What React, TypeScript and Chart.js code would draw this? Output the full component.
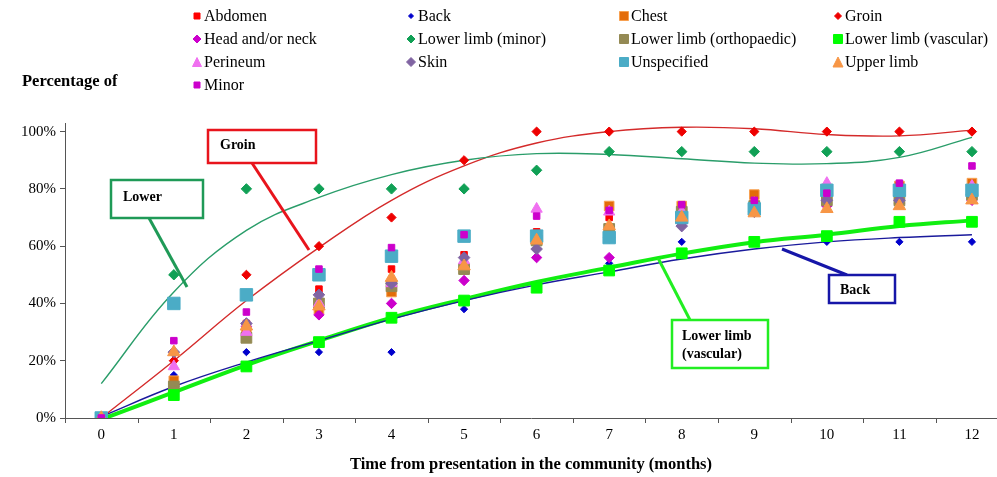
import React, { useEffect, useRef } from 'react';
import { Chart, registerables } from 'chart.js';

Chart.register(...registerables);

const SERIF = '"Liberation Serif", "Times New Roman", Times, serif';

// ---- data (percent) ----
const months = [0, 1, 2, 3, 4, 5, 6, 7, 8, 9, 10, 11, 12];
const yTicks = [0, 20, 40, 60, 80, 100];

const abdomen = [0, 12, 33, 45, 52, 57, 65, 70, 73, 76, 76, 78, 80];
const back = [0, 15, 23, 23, 23, 38, 46, 54, 61.5, 61.5, 61.5, 61.5, 61.5];
const chest = [0, 13, 30, 38, 44, 52, 63, 74, 74, 78, 80, 81, 82];
const groin = [0, 20, 50, 60, 70, 90, 100, 100, 100, 100, 100, 100, 100];
const headNeck = [0, 11, 32, 36, 40, 48, 56, 56, 68, 72, 74, 75, 76];
const lowerMinor = [0, 50, 80, 80, 80, 80, 86.5, 93, 93, 93, 93, 93, 93];
const lowerOrtho = [0, 11, 28, 40, 46, 52, 62, 66, 72, 74, 76, 76, 78];
const lowerVascular = [0, 8, 18, 26.5, 35, 41, 45.5, 51.5, 57.5, 61.5, 63.5, 68.5, 68.5];
const perineum = [0, 18, 30, 40, 47, 55, 73, 72, 72, 75, 82, 80, 81];
const skin = [0, 23, 33, 43, 47, 56, 59, 63, 67, 72, 76, 76, 78];
const unspecified = [0, 40, 43, 50, 56.5, 63.5, 63.5, 63, 70, 73, 79.5, 79.5, 79.5];
const upperLimb = [0, 23, 32, 39, 49, 53, 62, 67, 70, 71.5, 73, 74, 76];
const minor = [0, 27, 37, 52, 59.5, 64, 70.5, 72.5, 74.5, 76, 78.5, 82, 88];

// trend lines
const trendLowerMinor = [12, 44, 65.5, 77, 85, 90, 92.3, 92, 90.5, 89, 88.8, 91, 98];
const trendGroin = [0, 20, 41, 59.5, 76, 88, 96, 100, 101.5, 101, 99, 98.5, 100.5];
const trendBack = [0.5, 11, 19.5, 27, 34.5, 41, 46.5, 51, 55.5, 59, 61.5, 63, 64];
const trendVascular = [-0.5, 9, 18.5, 27, 35, 41.5, 47.5, 52.5, 57.4, 61.4, 64, 67, 69];

type Series = {
  label: string;
  data: number[];
  fill: string;
  stroke: string;
  shape: 'rect' | 'rectRot' | 'triangle';
  radius: number;
  legendSize: number;
};

const series: Series[] = [
  { label: 'Abdomen', data: abdomen, fill: '#ff0000', stroke: '#ff0000', shape: 'rect', radius: 4.6, legendSize: 6 },
  { label: 'Back', data: back, fill: '#0000cc', stroke: '#0000cc', shape: 'rectRot', radius: 3.6, legendSize: 5 },
  { label: 'Chest', data: chest, fill: '#e36c09', stroke: '#f7a050', shape: 'rect', radius: 6.8, legendSize: 9 },
  { label: 'Groin', data: groin, fill: '#ee0000', stroke: '#ee0000', shape: 'rectRot', radius: 4.6, legendSize: 7 },
  { label: 'Head and/or neck', data: headNeck, fill: '#cc00cc', stroke: '#cc00cc', shape: 'rectRot', radius: 5.2, legendSize: 8 },
  { label: 'Lower limb (minor)', data: lowerMinor, fill: '#10a055', stroke: '#10a055', shape: 'rectRot', radius: 5.2, legendSize: 8 },
  { label: 'Lower limb (orthopaedic)', data: lowerOrtho, fill: '#948a54', stroke: '#948a54', shape: 'rect', radius: 7.6, legendSize: 9 },
  { label: 'Lower limb (vascular)', data: lowerVascular, fill: '#00ff00', stroke: '#00ff00', shape: 'rect', radius: 7.6, legendSize: 9 },
  { label: 'Perineum', data: perineum, fill: '#f070f0', stroke: '#f070f0', shape: 'triangle', radius: 6.5, legendSize: 9 },
  { label: 'Skin', data: skin, fill: '#8064a2', stroke: '#8064a2', shape: 'rectRot', radius: 5.8, legendSize: 9 },
  { label: 'Unspecified', data: unspecified, fill: '#4bacc6', stroke: '#4bacc6', shape: 'rect', radius: 8.8, legendSize: 9 },
  { label: 'Upper limb', data: upperLimb, fill: '#f79646', stroke: '#f79646', shape: 'triangle', radius: 7.2, legendSize: 10 },
  { label: 'Minor', data: minor, fill: '#cc00cc', stroke: '#cc00cc', shape: 'rect', radius: 4.6, legendSize: 6 },
];

const trends = [
  { label: 'trend Lower limb (minor)', data: trendLowerMinor, color: '#2a9d6a', width: 1.4 },
  { label: 'trend Groin', data: trendGroin, color: '#d42a2a', width: 1.4 },
  { label: 'trend Back', data: trendBack, color: '#1a1a9c', width: 1.4 },
  { label: 'trend Lower limb (vascular)', data: trendVascular, color: '#11ee11', width: 4 },
];

const callouts = [
  { lines: ['Groin'], color: '#e8141c', box: [208, 130, 108, 33], leader: [252, 163, 309, 250], textX: 220, textY: 145 },
  { lines: ['Lower'], color: '#1f9a57', box: [111, 180, 92, 38], leader: [149, 218, 187, 287], textX: 123, textY: 197 },
  { lines: ['Back'], color: '#1616a8', box: [829, 275, 66, 28], leader: [847, 275, 782, 249], textX: 840, textY: 290 },
  { lines: ['Lower limb', '(vascular)'], color: '#22ee22', box: [672, 320, 96, 48], leader: [690, 320, 658, 258], textX: 682, textY: 336 },
];

function drawMarker(ctx: CanvasRenderingContext2D, shape: string, x: number, y: number, size: number, fill: string, stroke: string) {
  ctx.save();
  ctx.fillStyle = fill;
  ctx.strokeStyle = stroke;
  ctx.lineWidth = 1;
  ctx.beginPath();
  const h = size / 2;
  if (shape === 'rect') {
    ctx.rect(x - h, y - h, size, size);
  } else if (shape === 'rectRot') {
    ctx.moveTo(x, y - h);
    ctx.lineTo(x + h, y);
    ctx.lineTo(x, y + h);
    ctx.lineTo(x - h, y);
    ctx.closePath();
  } else {
    ctx.moveTo(x, y - h);
    ctx.lineTo(x + h, y + h);
    ctx.lineTo(x - h, y + h);
    ctx.closePath();
  }
  ctx.fill();
  ctx.stroke();
  ctx.restore();
}

const overlayPlugin = {
  id: 'overlay',
  afterDatasetsDraw(chart: any) {
    const ctx: CanvasRenderingContext2D = chart.ctx;
    ctx.save();
    for (const c of callouts) {
      const [bx, by, bw, bh] = c.box;
      const [x1, y1, x2, y2] = c.leader;
      ctx.strokeStyle = c.color;
      ctx.lineWidth = 3;
      ctx.beginPath();
      ctx.moveTo(x1, y1);
      ctx.lineTo(x2, y2);
      ctx.stroke();
      ctx.fillStyle = '#ffffff';
      ctx.fillRect(bx, by, bw, bh);
      ctx.lineWidth = 2.5;
      ctx.strokeRect(bx, by, bw, bh);
      ctx.fillStyle = '#000';
      ctx.font = `bold 14px ${SERIF}`;
      ctx.textBaseline = 'middle';
      ctx.textAlign = 'left';
      c.lines.forEach((t, i) => ctx.fillText(t, c.textX, c.textY + i * 18));
    }
    ctx.restore();
  },
  afterDraw(chart: any) {
    const ctx: CanvasRenderingContext2D = chart.ctx;
    const xs = chart.scales.x;
    ctx.save();
    // x tick marks between categories
    ctx.strokeStyle = '#555';
    ctx.lineWidth = 1;
    for (let v = -0.5; v <= xs.max; v += 1) {
      const px = Math.round(xs.getPixelForValue(v)) + 0.5;
      ctx.beginPath();
      ctx.moveTo(px, xs.top);
      ctx.lineTo(px, xs.top + 5);
      ctx.stroke();
    }
    // legend
    const rowY = [16, 39, 62, 85];
    const colX = [197, 411, 624, 838];
    ctx.font = `16px ${SERIF}`;
    ctx.textBaseline = 'middle';
    ctx.textAlign = 'left';
    series.forEach((s, i) => {
      const r = Math.floor(i / 4);
      const c = i % 4;
      const mx = colX[c];
      const my = rowY[r];
      drawMarker(ctx, s.shape, mx, my, s.legendSize, s.fill, s.stroke);
      ctx.fillStyle = '#000';
      ctx.fillText(s.label, mx + 7, my + 1);
    });
    // y axis title
    ctx.font = `bold 16.5px ${SERIF}`;
    ctx.fillText('Percentage of', 22, 82);
    ctx.restore();
  },
};

export default function App() {
  const ref = useRef<HTMLCanvasElement | null>(null);
  useEffect(() => {
    if (!ref.current) return;
    const datasets: any[] = [];
    series.forEach((s, i) => {
      datasets.push({
        type: 'scatter',
        label: s.label,
        data: months.map((m, k) => ({ x: m, y: s.data[k] })),
        pointStyle: s.shape,
        pointRadius: s.radius,
        pointBackgroundColor: s.fill,
        pointBorderColor: s.stroke,
        pointBorderWidth: 1,
        order: 20 - i,
      });
    });
    trends.forEach((t) => {
      datasets.push({
        type: 'line',
        label: t.label,
        data: months.map((m, k) => ({ x: m, y: t.data[k] })),
        borderColor: t.color,
        borderWidth: t.width,
        pointRadius: 0,
        tension: 0.4,
        fill: false,
        order: 50,
      });
    });
    const chart = new Chart(ref.current, {
      type: 'scatter',
      data: { datasets },
      options: {
        animation: false,
        responsive: false,
        layout: { autoPadding: false, padding: { top: 123, left: 0, right: 0, bottom: 0 } },
        plugins: { legend: { display: false }, tooltip: { enabled: false } },
        scales: {
          x: {
            type: 'linear',
            min: -0.5,
            max: 12.345,
            afterBuildTicks: (scale: any) => {
              scale.ticks = months.map((v) => ({ value: v }));
            },
            afterFit: (scale: any) => {
              scale.height = 59;
              scale.paddingLeft = 0;
              scale.paddingRight = 0;
            },
            grid: { display: false, drawTicks: false },
            border: { display: true, color: '#555', width: 1 },
            ticks: {
              color: '#000',
              font: { family: SERIF, size: 15 },
              padding: 8,
              maxRotation: 0,
              autoSkip: false,
              callback: (v: any) => String(v),
            },
            title: {
              display: true,
              text: 'Time from presentation in the community (months)',
              color: '#000',
              font: { family: SERIF, size: 16.5, weight: 'bold' },
              padding: { top: 0, bottom: 2 },
            },
          },
          y: {
            type: 'linear',
            min: 0,
            max: 103,
            afterBuildTicks: (scale: any) => {
              scale.ticks = yTicks.map((v) => ({ value: v }));
            },
            afterFit: (scale: any) => {
              scale.width = 65;
              scale.paddingTop = 0;
              scale.paddingBottom = 0;
            },
            grid: { drawOnChartArea: false, drawTicks: true, tickLength: 5, color: '#555' },
            border: { display: true, color: '#555', width: 1 },
            ticks: {
              color: '#000',
              font: { family: SERIF, size: 15 },
              padding: 4,
              callback: (v: any) => v + '%',
            },
          },
        },
      },
      plugins: [overlayPlugin],
    } as any);
    return () => chart.destroy();
  }, []);
  return (
    <div style={{ position: 'absolute', left: 0, top: 0, width: 997, height: 477, background: '#fff' }}>
      <canvas ref={ref} width={997} height={477} style={{ display: 'block' }} />
    </div>
  );
}
